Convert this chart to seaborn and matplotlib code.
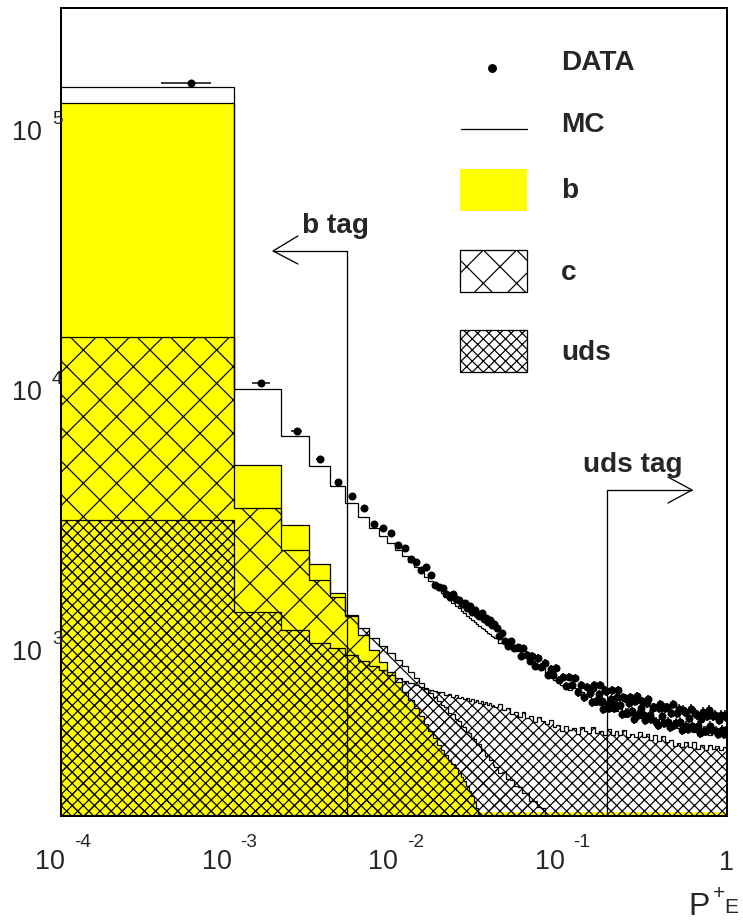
import numpy as np
import matplotlib
matplotlib.use("Agg")
import matplotlib.pyplot as plt
from matplotlib.patches import Rectangle
from matplotlib.lines import Line2D
from matplotlib.ticker import LogLocator, NullFormatter
import seaborn as sns

# ------------------------------------------------------------------ data
P_MIN = 1e-4      # low edge of the first P+E bin
BIN_W = 1e-3      # width of the original linear bins
N_FINE = 40       # bins kept one by one (P < 0.0401)
far_edges = np.geomspace(0.0401, 1.0001, 61)   # merged bins for P > 0.04

# MC total and flavour components (entries / bin), fine bins 1..40
mc_fine = [143800, 9913, 6537, 5012, 4200, 3612, 3190, 2894, 2697, 2534,
           2382, 2258, 2142, 2049, 1960, 1876, 1810, 1732, 1672, 1628,
           1571, 1530, 1490, 1450, 1425, 1388, 1363, 1328, 1305, 1282,
           1259, 1237, 1215, 1194, 1183, 1163, 1142, 1132, 1112, 1102]
b_fine = [124800, 5056, 2973, 2104, 1628, 1339, 1122, 982, 884, 808,
          740, 677, 631, 588, 548, 510, 480, 451, 424, 405,
          388, 371, 358, 346, 331, 319, 308, 295, 282, 270,
          256, 242, 230, 218, 200, 190, 180, 170, 160, 150]
c_fine = [15710, 3455, 2382, 1826, 1571, 1330, 1194, 1093, 1018, 957,
          899, 853, 809, 767, 734, 702, 671, 648, 625, 604,
          595, 562, 556, 532, 522, 500, 497, 474, 470, 450,
          447, 426, 428, 405, 404, 386, 388, 370, 371, 355]
uds_fine = [3105, 1375, 1173, 1045, 1000, 940, 891, 853, 823, 787,
            767, 747, 734, 721, 708, 696, 689, 683, 677, 676,
            660, 668, 648, 660, 642, 650, 636, 643, 626, 637,
            620, 630, 615, 626, 610, 619, 604, 614, 600, 606]

# merged bins beyond P = 0.04 (60 bins)
mc_far = [1090, 1050, 1068, 1020, 1020, 975, 978, 935, 945, 892,
          895, 848, 850, 795, 800, 752, 760, 722, 728, 690,
          700, 665, 676, 642, 654, 625, 637, 602, 620, 586,
          604, 572, 590, 561, 578, 551, 568, 537, 554, 527,
          544, 518, 535, 509, 526, 500, 516, 491, 507, 482,
          498, 474, 490, 470, 485, 465, 481, 461, 477, 458]
b_far = [140, 128, 117, 106, 96, 87, 78, 70, 63, 56,
         50, 44, 39, 34, 30, 26, 22, 19, 16, 14,
         12, 10, 9, 8, 7, 6, 5, 5, 4, 4,
         3, 3, 3, 3, 3, 3, 3, 3, 3, 3,
         2, 2, 2, 2, 2, 2, 2, 2, 2, 2,
         2, 2, 2, 2, 2, 2, 2, 2, 2, 2]
c_far = [349, 332, 333, 314, 311, 296, 293, 278, 276, 259,
         258, 244, 243, 228, 225, 212, 203, 195, 186, 178,
         170, 163, 156, 150, 143, 137, 131, 126, 120, 115,
         110, 106, 101, 97, 93, 89, 85, 82, 78, 75,
         72, 69, 66, 63, 60, 58, 55, 53, 51, 49,
         47, 45, 43, 41, 39, 38, 36, 35, 33, 32]
uds_far = [593, 609, 577, 588, 557, 567, 543, 567, 538, 548,
           519, 543, 524, 510, 528, 497, 506, 480, 501, 484,
           492, 467, 497, 480, 471, 497, 471, 480, 463, 488,
           463, 480, 463, 484, 455, 467, 455, 475, 455, 467,
           443, 463, 439, 459, 435, 443, 420, 431, 416, 435,
           416, 435, 409, 424, 405, 424, 409, 420, 405, 416]

# DATA: fine bins 1..40, then a selection of the original bins beyond
data_fine = [149000, 10450, 6830, 5330, 4350, 3840, 3455, 3000, 2895, 2770,
             2490, 2425, 2200, 2140, 1995, 2050, 1910, 1745, 1715, 1700,
             1615, 1570, 1615, 1545, 1530, 1475, 1490, 1425, 1450, 1375,
             1400, 1350, 1330, 1365, 1295, 1305, 1260, 1280, 1225, 1235]
data_far_bins = [42, 43, 45, 47, 49, 51, 53, 56, 58, 60,
                 63, 66, 68, 71, 74, 77, 81, 84, 88, 91,
                 95, 99, 104, 108, 113, 117, 122, 127, 133, 139,
                 144, 151, 157, 164, 171, 178, 185, 193, 201, 210,
                 219, 228, 238, 248, 258, 269, 281, 293, 305, 318,
                 331, 345, 360, 375, 391, 408, 425, 443, 462, 482,
                 502, 523, 545, 569, 593, 618, 644, 671, 700, 730,
                 760, 793, 826, 861, 898, 936, 976, 1000]
data_far = [1194, 1112, 1142, 1064, 1018, 1064, 1000, 1009, 932, 1000,
            940, 891, 932, 853, 915, 845, 876, 787, 830, 787,
            838, 753, 774, 714, 774, 721, 767, 677, 721, 648,
            708, 671, 702, 625, 665, 625, 689, 609, 637, 588,
            648, 604, 648, 562, 614, 572, 625, 553, 588, 553,
            614, 553, 588, 519, 588, 548, 588, 519, 562, 506,
            562, 519, 578, 501, 538, 501, 562, 501, 533, 480,
            548, 501, 548, 480, 529, 484, 553, 488]
# more of the original bins in the dense tail (P > 0.15)
data_tail_bins = [154, 160, 167, 174, 181, 189, 197, 205, 214, 223,
                  233, 243, 253, 263, 275, 287, 299, 311, 324, 338,
                  352, 367, 383, 399, 416, 434, 452, 472, 492, 512,
                  534, 557, 581, 605, 631, 657, 685, 715, 745, 776,
                  809, 843, 879, 917, 956, 988]
data_tail = [620, 721, 625, 721, 583, 683, 588, 689, 604, 689,
             557, 642, 562, 648, 533, 654, 562, 625, 529, 637,
             533, 593, 506, 609, 515, 593, 497, 609, 515, 583,
             484, 567, 488, 583, 492, 553, 471, 567, 480, 578,
             484, 553, 467, 553, 467, 543]

# tag cuts
B_TAG_CUT = 5.2e-3
UDS_TAG_CUT = 0.19

YMIN, YMAX = 226.0, 2.894e5
x_tick_exps = [-4, -3, -2, -1]
y_tick_exps = [3, 4, 5]
legend_labels = ["DATA", "MC", "b", "c", "uds"]

# ------------------------------------------------------------------ style
DPI = 100
W, H = 743, 922


def P(px):
    """pixels -> points at the output dpi"""
    return px * 72.0 / DPI


sns.set_style("white")
plt.rcParams.update({
    "font.family": ["Liberation Sans", "DejaVu Sans"],
    "hatch.linewidth": P(1.2),
    "hatch.color": "black",
})
YELLOW = "#ffff00"
LW = P(1.25)

fig = plt.figure(figsize=(W / DPI, H / DPI), dpi=DPI)
fig.patch.set_facecolor("white")


def fxy(x, y):
    return (x / W, 1 - y / H)


ax = fig.add_axes([61 / W, 1 - 816 / H, 666 / W, 808 / H])
ax.set_xscale("log")
ax.set_yscale("log")
ax.set_xlim(1e-4, 1.0)
ax.set_ylim(YMIN, YMAX)
ax.set_facecolor("white")

edges = np.concatenate([P_MIN + BIN_W * np.arange(N_FINE + 1), far_edges[1:]])
b_all = np.array(b_fine + b_far, float)
c_all = np.array(c_fine + c_far, float)
uds_all = np.array(uds_fine + uds_far, float)
mc_all = np.array(mc_fine + mc_far, float)
base = YMIN * 0.3

# b : yellow fill
ax.stairs(np.maximum(b_all, YMIN * 1.035), edges, baseline=base, fill=True,
          facecolor=YELLOW, edgecolor="none", lw=0, zorder=1.0)
ax.stairs(b_all, edges, baseline=None, color="black", lw=LW, zorder=1.05)
# c : sparse cross hatch
ax.stairs(c_all, edges, baseline=base, fill=True, facecolor="none",
          edgecolor="black", hatch="x", lw=0, zorder=1.1)
ax.stairs(c_all, edges, baseline=None, color="black", lw=LW, zorder=1.15)
# uds : dense cross hatch
ax.stairs(uds_all, edges, baseline=base, fill=True, facecolor="none",
          edgecolor="black", hatch="xxx", lw=0, zorder=1.2)
ax.stairs(uds_all, edges, baseline=None, color="black", lw=LW, zorder=1.25)
# MC total
ax.stairs(mc_all, edges, baseline=None, color="black", lw=LW, zorder=1.3)

# DATA points
fine_idx = np.arange(1, N_FINE + 1)
bins_all = np.concatenate([fine_idx, data_far_bins, data_tail_bins]).astype(float)
centers = P_MIN + (bins_all - 0.5) * BIN_W
counts = np.array(data_fine + data_far + data_tail, float)
ax.errorbar(centers, counts, xerr=0.2 * BIN_W, yerr=np.sqrt(counts), fmt="none",
            ecolor="black", elinewidth=P(1.5), capsize=0, zorder=3)
sns.scatterplot(x=centers, y=counts, ax=ax, color="black", s=P(8.0) ** 2,
                linewidth=0, zorder=3.1, legend=False)

# tag arrows
TLW = P(1.3)
ax.plot([B_TAG_CUT, B_TAG_CUT], [YMIN * 0.5, 33650], color="black", lw=TLW, zorder=2)
ax.plot([B_TAG_CUT, 1.877e-3], [33650, 33650], color="black", lw=TLW, zorder=2)
ax.plot([2.65e-3, 1.877e-3, 2.65e-3], [38450, 33650, 29990], color="black", lw=TLW, zorder=2)
ax.text(2.80e-3, 39450, "b tag", fontsize=P(28), fontweight="bold", ha="left", va="baseline")

ax.plot([UDS_TAG_CUT, UDS_TAG_CUT], [YMIN * 0.5, 4053], color="black", lw=TLW, zorder=2)
ax.plot([UDS_TAG_CUT, 0.6164], [4053, 4053], color="black", lw=TLW, zorder=2)
ax.plot([0.442, 0.6164, 0.442], [4548, 4053, 3612], color="black", lw=TLW, zorder=2)
ax.text(0.1365, 4753, "uds tag", fontsize=P(28), fontweight="bold", ha="left", va="baseline")

# axes / ticks
ax.set_axisbelow(True)
ax.xaxis.set_major_locator(LogLocator(base=10, numticks=20))
ax.xaxis.set_minor_locator(LogLocator(base=10, subs=np.arange(2, 10), numticks=20))
ax.yaxis.set_major_locator(LogLocator(base=10, numticks=20))
ax.yaxis.set_minor_locator(LogLocator(base=10, subs=np.arange(2, 10), numticks=20))
for axis in (ax.xaxis, ax.yaxis):
    axis.set_major_formatter(NullFormatter())
    axis.set_minor_formatter(NullFormatter())
ax.tick_params(which="both", direction="in", top=False, right=False,
               labelbottom=False, labelleft=False, width=P(1.3), color="black")
ax.tick_params(axis="x", which="major", length=P(18))
ax.tick_params(axis="x", which="minor", length=P(10))
ax.tick_params(axis="y", which="major", length=P(18))
ax.tick_params(axis="y", which="minor", length=P(9))
for s in ax.spines.values():
    s.set_color("black")
    s.set_linewidth(P(2.0))
    s.set_visible(True)

# ROOT-style tick labels
FS_L, FS_E = P(27), P(19)
for e in x_tick_exps:
    ax.annotate("10", xy=(10.0 ** e, 0), xycoords=("data", "axes fraction"),
                xytext=(P(4), P(-53)), textcoords="offset points",
                ha="right", va="baseline", fontsize=FS_L)
    ax.annotate(str(e), xy=(10.0 ** e, 0), xycoords=("data", "axes fraction"),
                xytext=(P(13), P(-31)), textcoords="offset points",
                ha="left", va="baseline", fontsize=FS_E)
ax.annotate("1", xy=(1.0, 0), xycoords=("data", "axes fraction"),
            xytext=(P(-1), P(-54)), textcoords="offset points",
            ha="center", va="baseline", fontsize=FS_L)
for e in y_tick_exps:
    ax.annotate("10", xy=(0, 10.0 ** e), xycoords=("axes fraction", "data"),
                xytext=(P(-19), P(-12)), textcoords="offset points",
                ha="right", va="baseline", fontsize=FS_L)
    ax.annotate(str(e), xy=(0, 10.0 ** e), xycoords=("axes fraction", "data"),
                xytext=(P(-9), P(4)), textcoords="offset points",
                ha="left", va="baseline", fontsize=FS_E)

# x-axis title  P^+_E
fig.text(*fxy(688, 915), "P", fontsize=P(32), ha="left", va="baseline")
fig.text(*fxy(713, 899), "+", fontsize=P(21), ha="left", va="baseline")
fig.text(*fxy(724, 913), "E", fontsize=P(21), ha="left", va="baseline")

# legend (drawn by hand, ROOT TLegend look)
T = fig.transFigure
fig.add_artist(Line2D([492 / W], [1 - 68 / H], marker="o", ms=P(7.5), color="black",
                      linestyle="none", transform=T))
fig.add_artist(Line2D([461 / W, 527 / W], [1 - 129 / H, 1 - 129 / H], lw=P(1.3),
                      color="black", transform=T))
fig.add_artist(Rectangle(fxy(460, 211), 67 / W, 42 / H, facecolor=YELLOW,
                         edgecolor="none", transform=T))
fig.add_artist(Rectangle(fxy(460, 292), 67 / W, 42 / H, facecolor="white",
                         edgecolor="black", hatch="x", lw=P(1.3), transform=T))
fig.add_artist(Rectangle(fxy(460, 372), 67 / W, 42 / H, facecolor="white",
                         edgecolor="black", hatch="xxx", lw=P(1.3), transform=T))
for lab, yb in zip(legend_labels, [70, 132, 198, 280, 360]):
    fig.text(*fxy(561, yb), lab, fontsize=P(28), fontweight="bold",
             ha="left", va="baseline")

fig.savefig("out.png", dpi=DPI)
